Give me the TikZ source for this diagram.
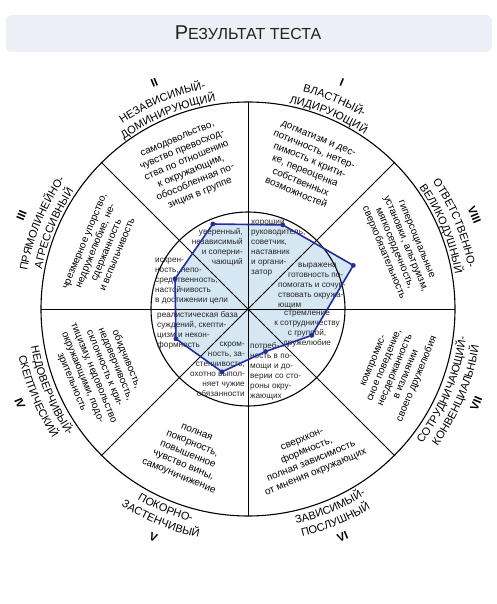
\documentclass[tikz,border=0pt]{standalone}
\usepackage{fontspec}
\setmainfont{Liberation Sans}
\usetikzlibrary{decorations.text}
\definecolor{polyc}{RGB}{35,45,155}
\definecolor{polyfill}{RGB}{214,231,244}
\definecolor{titlebg}{RGB}{238,239,246}
\definecolor{titletext}{RGB}{34,34,34}
\newcommand{\labfont}{\fontsize{11}{12}\selectfont}
\newcommand{\uplab}[3]{\path[decorate,decoration={text along path,text align=center,text={|\labfont|#2}}] ({#1+40}:#3) arc[start angle={#1+40},end angle={#1-40},radius=#3pt];}
\newcommand{\dnlab}[3]{\path[decorate,decoration={text along path,text align=center,text={|\labfont|#2}}] ({#1-40}:#3) arc[start angle={#1-40},end angle={#1+40},radius=#3pt];}
\begin{document}
\begin{tikzpicture}[x=1pt,y=1pt,
  sect/.style={font=\fontsize{10}{11.8}\selectfont, align=center, inner sep=0pt},
  inn/.style={font=\fontsize{8.2}{10}\selectfont, inner sep=0pt, text=black!85},
  numlab/.style={font=\bfseries\fontsize{11.5}{12}\selectfont, inner sep=0pt},
  ring/.style={line width=1.1pt},
  divline/.style={line width=0.9pt}]
\useasboundingbox (-248,-295) rectangle (249,309);
% title
\fill[titlebg, rounded corners=6pt] (-242,257) rectangle (244,294);
\node[text=titletext, inner sep=0pt] (title) at (0,276) {{\fontsize{20}{24}\selectfont Р}{\fontsize{16}{20}\selectfont ЕЗУЛЬТАТ ТЕСТА}};
\coordinate (O) at (0,0);
% polygon vertices
\coordinate (p1) at (112.5:92);
\coordinate (p2) at (67.5:91);
\coordinate (p3) at (22.5:114);
\coordinate (p4) at (-22.5:69);
\coordinate (p5) at (-67.5:46);
\coordinate (p6) at (-112.5:68);
\coordinate (p7) at (-157.5:78);
\coordinate (p8) at (157.5:79);
\fill[polyfill] (p1) -- (p2) -- (p3) -- (p4) -- (p5) -- (p6) -- (p7) -- (p8) -- cycle;
% circle structure
\foreach \a in {0,45,90,135} \draw[divline] (\a:207) -- ({\a+180}:207);
\draw[ring] (O) circle[radius=207pt];
\draw[ring] (O) circle[radius=97pt];
% sector texts
\node[sect, rotate=-22.5] (s1) at (67.5:155) {догматизм и дес-\\потичность, нетер-\\пимость к крити-\\ке, переоценка\\собственных\\возможностей};
\node[sect, rotate=22.5] (s2) at (112.5:154) {самодовольство,\\чувство превосход-\\ства по отношению\\к окружающим,\\обособленная по-\\зиция в группе};
\node[sect, rotate=67.5] (s3) at (157.5:159) {чрезмерное упорство,\\недружелюбие, не-\\сдержанность\\и вспыльчивость};
\node[sect, rotate=-67.5] (s4) at (202.5:161) {обидчивость,\\недоверчивость,\\склонность к кри-\\тицизму, недовольство\\окружающими, подо-\\зрительность};
\node[sect, rotate=-22.5] (s5) at (247.5:158) {полная\\покорность,\\повышенное\\чувство вины,\\самоуничижение};
\node[sect, rotate=22.5] (s6) at (292.5:160) {сверхкон-\\формность,\\полная зависимость\\от мнения окружающих};
\node[sect, rotate=67.5] (s7) at (337.5:160) {компромис-\\сное поведение,\\несдержанность\\в излиянии\\своего дружелюбия};
\node[sect, rotate=-67.5] (s8) at (22.5:164) {гиперсоциальные\\установки, альтруизм,\\мягкосердечность,\\сверхобязательность};
% outer labels
\uplab{67.5}{ВЛАСТНЫЙ-}{224}
\uplab{67.5}{ЛИДИРУЮЩИЙ}{210}
\uplab{112.5}{НЕЗАВИСИМЫЙ-}{224}
\uplab{112.5}{ДОМИНИРУЮЩИЙ}{210}
\uplab{157.5}{ПРЯМОЛИНЕЙНО-}{224}
\uplab{157.5}{АГРЕССИВНЫЙ}{210}
\uplab{22.5}{ОТВЕТСТВЕННО-}{224}
\uplab{22.5}{ВЕЛИКОДУШНЫЙ}{210}
\dnlab{202.5}{НЕДОВЕРЧИВЫЙ-}{220}
\dnlab{202.5}{СКЕПТИЧЕСКИЙ}{234}
\dnlab{247.5}{ПОКОРНО-}{220}
\dnlab{247.5}{ЗАСТЕНЧИВЫЙ}{234}
\dnlab{292.5}{ЗАВИСИМЫЙ-}{220}
\dnlab{292.5}{ПОСЛУШНЫЙ}{234}
\dnlab{337.5}{СОТРУДНИЧАЮЩИЙ-}{220}
\dnlab{337.5}{КОНВЕНЦИАЛЬНЫЙ}{234}
% numerals
\node[numlab, rotate=-22.5] (n1) at (67.5:245) {I};
\node[numlab, rotate=22.5] (n2) at (112.5:245) {II};
\node[numlab, rotate=67.5] (n3) at (157.5:245) {III};
\node[numlab, rotate=-67.5] (n4) at (202.5:247) {IV};
\node[numlab, rotate=-22.5] (n5) at (247.5:247) {V};
\node[numlab, rotate=22.5] (n6) at (292.5:247) {VI};
\node[numlab, rotate=67.5] (n7) at (337.5:247) {VII};
\node[numlab, rotate=-67.5] (n8) at (22.5:245) {VIII};
% inner texts
\node[inn, anchor=north east, align=right] (i2) at (-5,81) {уверенный,\\независимый\\и соперни-\\чающий};
\node[inn, anchor=north west, align=left] (i1) at (3,91) {хороший\\руководитель,\\советчик,\\наставник\\и органи-\\затор};
\node[inn, anchor=north west, align=left] (i8) at (30,46) {\hspace*{20pt}выражена\\\hspace*{10pt}готовность по-\\помогать и сочув-\\ствовать окружа-\\ющим};
\node[inn, anchor=north, align=center] (i7) at (59,-2) {стремление\\к сотрудничеству\\с группой,\\дружелюбие};
\node[inn, anchor=north west, align=left] (i6) at (2,-33) {потреб-\\ность в по-\\мощи и до-\\верии со сто-\\роны окру-\\жающих};
\node[inn, anchor=north east, align=right] (i5) at (-3,-33) {скром-\\ность, за-\\стенчивость,\\охотно выпол-\\няет чужие\\обязанности};
\node[inn, anchor=north west, align=left] (i4) at (-91,-2) {реалистическая база\\суждений, скепти-\\цизм и некон-\\формность};
\node[inn, anchor=north west, align=left] (i3) at (-93,51) {искрен-\\ность, непо-\\средственность,\\настойчивость\\в достижении цели};
% result polygon
\draw[polyc, line width=1.6pt, line join=round] (p1) -- (p2) -- (p3) -- (p4) -- (p5) -- (p6) -- (p7) -- (p8) -- cycle;
\foreach \p in {p1,p2,p3,p4,p5,p6,p7,p8} \fill[polyc] (\p) circle[radius=2.4pt];
\end{tikzpicture}
\end{document}
